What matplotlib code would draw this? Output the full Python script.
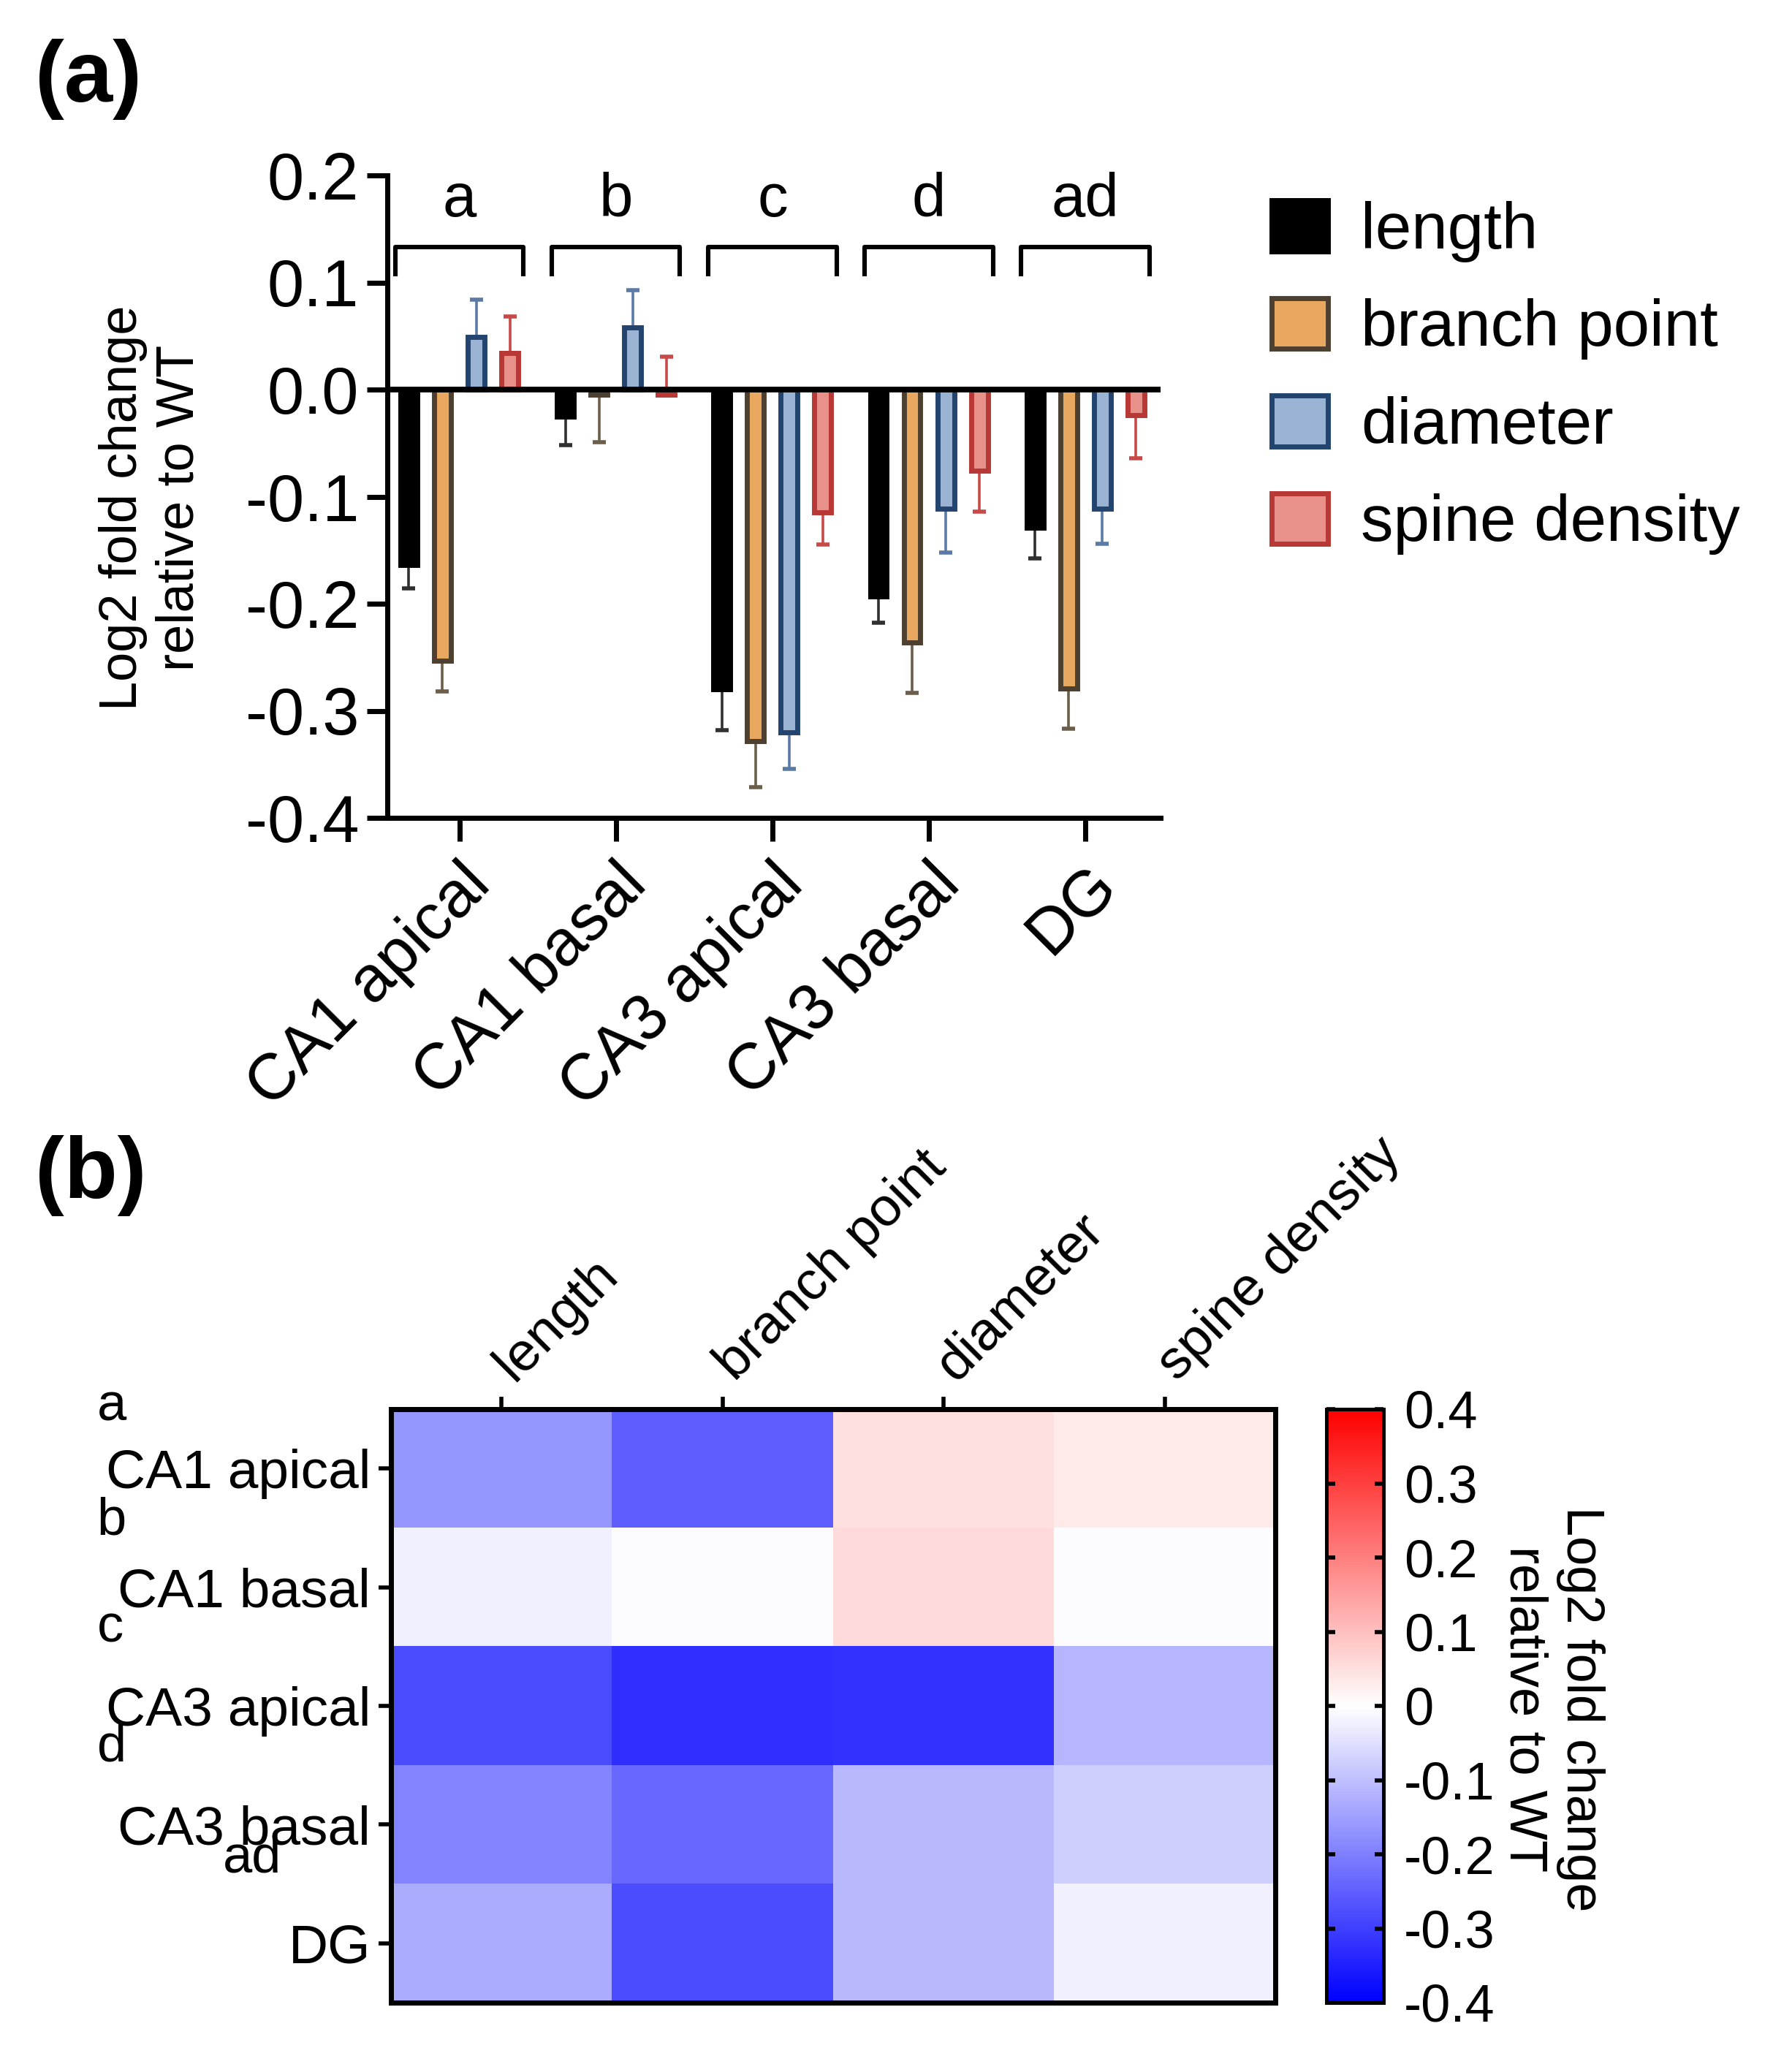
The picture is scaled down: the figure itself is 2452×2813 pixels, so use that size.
import numpy as np
import matplotlib
matplotlib.use('Agg')
import matplotlib.pyplot as plt

plt.rcParams['font.family'] = ['Liberation Sans', 'DejaVu Sans']
plt.rcParams['axes.unicode_minus'] = False

# data
regions = ['CA1 apical', 'CA1 basal', 'CA3 apical', 'CA3 basal', 'DG']
measures = ['length', 'branch point', 'diameter', 'spine density']
group_letters = ['a', 'b', 'c', 'd', 'ad']

length = [-0.164, -0.025, -0.280, -0.193, -0.129]
branch = [-0.253, -0.005, -0.328, -0.236, -0.279]
diameter = [0.049, 0.058, -0.320, -0.111, -0.111]
spine = [0.034, -0.005, -0.115, -0.076, -0.024]

# signed error: + drawn upward, - drawn downward
length_err = [-0.022, -0.027, -0.038, -0.025, -0.029]
branch_err = [-0.029, -0.044, -0.043, -0.047, -0.038]
diameter_err = [0.035, 0.035, -0.034, -0.041, -0.033]
spine_err = [0.034, 0.036, -0.030, -0.038, -0.040]

cbar_ticks = [-0.4, -0.3, -0.2, -0.1, 0, 0.1, 0.2, 0.3, 0.4]
cbar_labels = ['-0.4', '-0.3', '-0.2', '-0.1', '0', '0.1', '0.2', '0.3', '0.4']

face = ['black', '#E8A85F', '#9BB3D3', '#E8918A']
edge = ['black', '#4D4030', '#22446E', '#B83835']
errc = ['#303030', '#6B5E4A', '#5B7BA6', '#C84A48']

W, H = 2452, 2813
fig = plt.figure(figsize=(W / 200, H / 200), dpi=200)

# ---- panel a ----
ax1 = fig.add_axes([530 / W, 1 - 1119 / H, 1058 / W, 879 / H])
x = np.arange(len(regions))
offsets = np.array([-1.5, -0.5, 0.5, 1.5]) * 0.215
series = [length, branch, diameter, spine]
errs = [length_err, branch_err, diameter_err, spine_err]
for i in range(4):
    xp = x + offsets[i]
    e = np.array(errs[i])
    ax1.errorbar(xp, series[i], yerr=[np.clip(-e, 0, None), np.clip(e, 0, None)],
                 fmt='none', ecolor=errc[i], elinewidth=1.3, capsize=3.4, capthick=2, zorder=1)
    ax1.bar(xp, series[i], width=0.107, color=face[i], edgecolor=edge[i],
            linewidth=2.5, label=measures[i], zorder=2)
ax1.axhline(0, color='black', lw=2.8, zorder=3)

for xi, let in zip(x, group_letters):
    ax1.plot([xi - 0.41, xi - 0.41, xi + 0.41, xi + 0.41], [0.108, 0.133, 0.133, 0.108],
             color='black', lw=2.2, clip_on=False)
    ax1.text(xi, 0.162, let, ha='center', va='baseline', fontsize=30)

ax1.set_xlim(-0.46, 4.48)
ax1.set_ylim(-0.4, 0.2)
ax1.set_yticks([-0.4, -0.3, -0.2, -0.1, 0.0, 0.1, 0.2])
ax1.yaxis.set_major_formatter(matplotlib.ticker.FormatStrFormatter('%.1f'))
ax1.set_xticks(x)
ax1.set_xticklabels(regions, rotation=45, ha='right', rotation_mode='anchor')
for s in ['top', 'right']:
    ax1.spines[s].set_visible(False)
for s in ['left', 'bottom']:
    ax1.spines[s].set_linewidth(2.5)
ax1.tick_params(axis='y', length=10, width=2.5, labelsize=32.5, pad=4)
ax1.tick_params(axis='x', length=11.5, width=2.5, labelsize=32, pad=6)

fig.text(207 / W, 1 - 695 / H, 'Log2 fold change\nrelative to WT', rotation=90,
         ha='center', va='center', fontsize=26, multialignment='center')

h, l = ax1.get_legend_handles_labels()
fig.legend(h, l, loc='upper left', bbox_to_anchor=(1740 / W, 1 - 274 / H), frameon=False,
           fontsize=32, handlelength=0.87, handleheight=0.83, labelspacing=0.55,
           handletextpad=0.5, borderpad=0, borderaxespad=0)

fig.text(48 / W, 1 - 108 / H, '(a)', fontsize=43, fontweight='bold', ha='left', va='center')

# ---- panel b ----
heat = np.column_stack([length, branch, diameter, spine])
ax2 = fig.add_axes([535 / W, 1 - 2740 / H, 1210 / W, 812 / H])
im = ax2.imshow(heat, cmap='bwr', vmin=-0.4, vmax=0.4, aspect='auto', interpolation='nearest')
ax2.xaxis.tick_top()
ax2.set_xticks(range(len(measures)))
ax2.set_xticklabels([])
for j, m in enumerate(measures):
    ax2.annotate(m, xy=(j, -0.5), xytext=(6, 13), textcoords='offset points',
                 rotation=45, ha='left', va='baseline', rotation_mode='anchor',
                 fontsize=27, annotation_clip=False)
ax2.set_yticks(range(len(regions)))
ax2.set_yticklabels(regions)
ax2.tick_params(length=6, width=2, labelsize=27, pad=4)
for s in ax2.spines.values():
    s.set_linewidth(2.5)

letter_y = [-0.52, 0.44, 1.35, 2.35, 3.29]
letter_x = [-1.83, -1.83, -1.83, -1.83, -1.26]
for lx, ly, let in zip(letter_x, letter_y, group_letters):
    ax2.text(lx, ly, let, ha='left', va='center', fontsize=26, clip_on=False)

cax = fig.add_axes([1815 / W, 1 - 2740 / H, 78 / W, 812 / H])
cb = fig.colorbar(im, cax=cax, ticks=cbar_ticks)
cb.ax.set_yticklabels(cbar_labels)
cb.outline.set_linewidth(1.8)
cb.ax.tick_params(direction='in', left=True, right=True, length=4.3, width=2, labelsize=26, pad=10)

fig.text(2124 / W, 1 - 2338 / H, 'Log2 fold change\nrelative to WT', rotation=270,
         ha='center', va='center', fontsize=26, multialignment='center')

fig.text(48 / W, 1 - 1609 / H, '(b)', fontsize=43, fontweight='bold', ha='left', va='center')

fig.savefig('out.png', dpi=200)
